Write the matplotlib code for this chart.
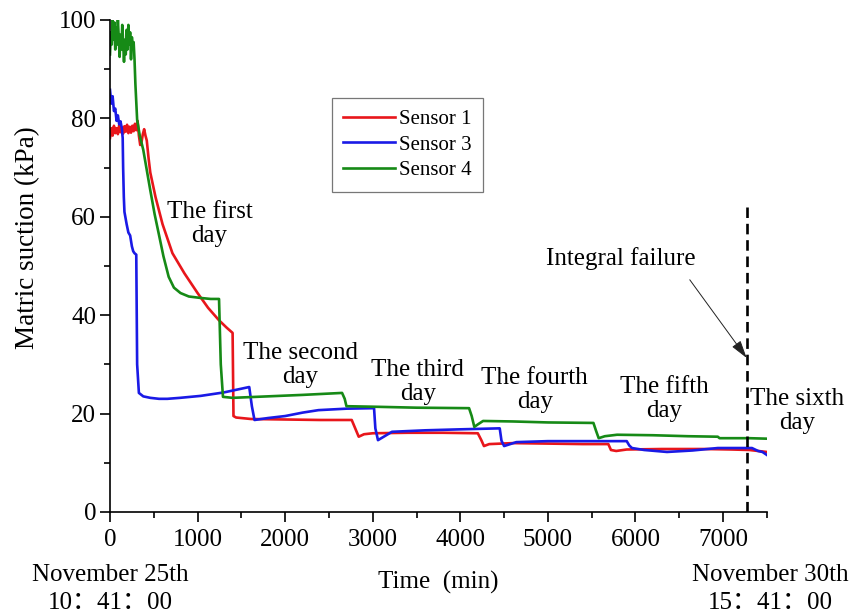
import matplotlib
matplotlib.use("Agg")
import matplotlib.pyplot as plt
from matplotlib.ticker import MultipleLocator

plt.rcParams['font.family'] = ['Liberation Serif', 'DejaVu Serif']

# Sensor 1 (red)
s1_t = [0, 15, 30, 45, 60, 75, 90, 105, 120, 135, 150, 165, 180, 195, 210, 225, 240,
        255, 270, 285, 300, 315, 330, 345, 360, 375, 390, 405, 420, 440, 460, 520, 600,
        713, 850, 1000, 1120, 1243, 1330, 1400, 1410, 1440, 1610, 2000, 2400, 2760,
        2800, 2840, 2900, 3000, 3400, 3800, 4200, 4240, 4270, 4330, 4600, 5000, 5400,
        5690, 5720, 5780, 5900, 6300, 6800, 7100, 7300, 7500]
s1_v = [76, 78, 76.5, 78.5, 77, 78, 76.8, 78.6, 77.2, 78.2, 76.9, 78.4, 77.3, 78.7, 77,
        78.3, 77.1, 78.5, 77.4, 78.9, 77.6, 79.5, 76.5, 74.6, 75.2, 76.8, 77.8, 76.5, 75.5,
        72, 69, 64, 58.5, 52.6, 48.5, 44.5, 41.5, 39, 37.5, 36.4, 19.5, 19.2, 18.9, 18.8,
        18.7, 18.7, 17, 15.3, 15.8, 16, 16.1, 16.1, 16, 14.6, 13.4, 13.8, 14, 13.9, 13.8,
        13.8, 12.6, 12.4, 12.7, 12.8, 12.8, 12.7, 12.6, 12.2]

# Sensor 3 (blue)
s3_t = [0, 15, 30, 45, 60, 75, 90, 105, 120, 135, 145, 150, 158, 165, 175, 190, 210,
        230, 250, 265, 280, 300, 310, 330, 380, 460, 560, 655, 800, 1036, 1300, 1590,
        1620, 1650, 1806, 2000, 2200, 2380, 2700, 3015, 3030, 3060, 3220, 3600, 4000,
        4450, 4470, 4500, 4640, 5000, 5400, 5900, 5930, 5960, 6100, 6360, 6650, 6940,
        7200, 7330, 7400, 7450, 7500]
s3_v = [85.8, 83, 84.5, 81.5, 82, 79.5, 80.6, 78.8, 79.4, 78, 76, 70, 64, 61, 60, 58.5,
        56.8, 56.2, 54, 53, 52.6, 52.3, 30, 24.2, 23.5, 23.2, 23, 23, 23.2, 23.6, 24.3,
        25.4, 21.5, 18.7, 19.1, 19.5, 20.2, 20.7, 21, 21.1, 17, 14.6, 16.3, 16.6, 16.8,
        17, 14.5, 13.4, 14.2, 14.4, 14.4, 14.4, 13.5, 13, 12.6, 12.2, 12.5, 13, 13, 13,
        12.4, 12.2, 11.6]

# Sensor 4 (green)
s4_t = [0, 10, 20, 30, 40, 50, 60, 70, 80, 90, 100, 110, 120, 130, 140, 150, 160, 170,
        180, 190, 200, 210, 220, 230, 240, 250, 260, 270, 280, 290, 310, 340, 380, 420,
        460, 510, 555, 610, 670, 730, 805, 900, 1036, 1150, 1245, 1265, 1290, 1400,
        1800, 2200, 2650, 2680, 2700, 3000, 3500, 4100, 4130, 4160, 4200, 4260, 4600,
        5000, 5520, 5550, 5580, 5650, 5790, 6200, 6600, 6940, 6960, 7100, 7300, 7500]
s4_v = [93, 97.5, 95, 100, 96, 99.5, 94, 98.5, 95, 100, 96.5, 92.5, 97, 94, 99, 95.5,
        91.5, 96, 93, 98, 94, 99, 95, 97.5, 92, 96.5, 94.5, 95.5, 92, 87, 79.7, 76.5,
        73.6, 69.5, 65.4, 60.5, 56.7, 52, 47.8, 45.6, 44.5, 43.8, 43.5, 43.3, 43.3, 30,
        23.4, 23.2, 23.5, 23.8, 24.2, 23, 21.5, 21.4, 21.2, 21.1, 19.5, 17.3, 17.8, 18.5,
        18.4, 18.2, 18.1, 16.5, 15, 15.4, 15.7, 15.6, 15.4, 15.3, 15, 15, 15, 14.9]

series = [("Sensor 1", s1_t, s1_v, "#e8161b"),
          ("Sensor 3", s3_t, s3_v, "#1a1ae6"),
          ("Sensor 4", s4_t, s4_v, "#168a16")]

day_labels = ["The first\nday", "The second\nday", "The third\nday",
              "The fourth\nday", "The fifth\nday", "The sixth\nday"]
day_x = [1136, 2170, 3516, 4850, 6326, 7842]
day_y = [58.5, 29.9, 26.4, 24.8, 23.0, 20.5]

failure_time = 7270
failure_top = 62.0

fig = plt.figure(figsize=(8.62, 6.15), dpi=100)
ax = fig.add_axes([0.1276, 0.1675, 0.762, 0.80])

for name, t, v, c in series:
    ax.plot(t, v, color=c, lw=1.9, label=name)

ax.plot([failure_time, failure_time], [0, failure_top], color="black",
        lw=1.9, ls=(0, (4, 2.2)))

for lbl, x, y in zip(day_labels, day_x, day_y):
    ax.text(x, y, lbl, ha="center", va="center", fontsize=18,
            linespacing=1.1, clip_on=False)

ax.annotate("", xy=(failure_time, 31.3), xytext=(6620, 47.2),
            arrowprops=dict(arrowstyle="-|>,head_length=0.55,head_width=0.16",
                            color="#222222", lw=0.7,
                            mutation_scale=20, shrinkA=0, shrinkB=0))
ax.text(5830, 51.6, "Integral failure", ha="center", va="center", fontsize=18)

ax.set_xlim(0, 7500)
ax.set_ylim(0, 100)
ax.xaxis.set_major_locator(MultipleLocator(1000))
ax.xaxis.set_minor_locator(MultipleLocator(500))
ax.yaxis.set_major_locator(MultipleLocator(20))
ax.yaxis.set_minor_locator(MultipleLocator(10))
ax.spines["top"].set_visible(False)
ax.spines["right"].set_visible(False)
for sp in ("left", "bottom"):
    ax.spines[sp].set_linewidth(1.2)
ax.tick_params(which="major", direction="out", length=7, width=1.2, labelsize=18)
ax.tick_params(axis="x", which="major", pad=5)
ax.tick_params(axis="y", which="major", pad=3)
ax.tick_params(which="minor", direction="out", length=4, width=1.2)

ax.set_ylabel("Matric suction (kPa)", fontsize=19.5)
ax.yaxis.set_label_coords((40 - 110) / 657, (512 - 238) / 492)

fig.text(438 / 862, 1 - 582 / 615, "Time  (min)", ha="center", va="center",
         fontsize=18)

cjk = ["Liberation Serif", "Noto Sans CJK SC"]
fig.text(110 / 862, 1 - 589 / 615, "November 25th\n10：41：00", ha="center",
         va="center", fontsize=18, linespacing=1.4, family=cjk)
fig.text(770 / 862, 1 - 589 / 615, "November 30th\n15：41：00", ha="center",
         va="center", fontsize=18, linespacing=1.4, family=cjk)

leg = ax.legend(loc="upper left", bbox_to_anchor=(0.338, 0.841), fontsize=15,
                frameon=True, fancybox=False, edgecolor="#555555",
                handlelength=2.45, handletextpad=0.2, borderpad=0.55,
                labelspacing=0.28, borderaxespad=0)
leg.get_frame().set_linewidth(0.9)

fig.savefig("out.png", dpi=100)
